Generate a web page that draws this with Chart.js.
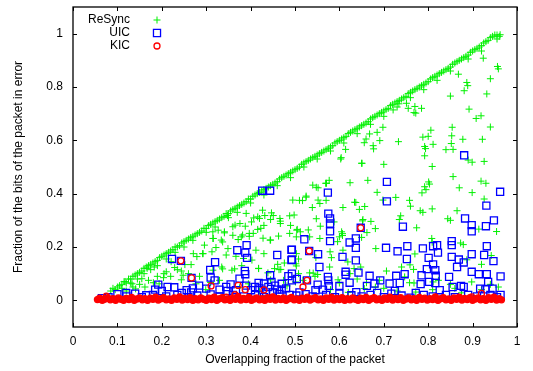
<!DOCTYPE html>
<html>
<head>
<meta charset="utf-8">
<script src="https://cdn.jsdelivr.net/npm/chart.js@4/dist/chart.umd.min.js"></script>
<style>
  html, body { margin: 0; padding: 0; background: #fff; }
</style>
</head>
<body>
<canvas id="chart" width="533" height="371"></canvas>
<script>
// tick values
const xTicks = [0, 0.1, 0.2, 0.3, 0.4, 0.5, 0.6, 0.7, 0.8, 0.9, 1];
const yTicks = [0, 0.2, 0.4, 0.6, 0.8, 1];
const seriesNames = ["ReSync", "UIC", "KIC"];

// ReSync: dense upper edge
const resyncEdge = [
  [0.085,0.035],[0.09,0.045],[0.095,0.04],[0.1,0.05],[0.105,0.055],[0.11,0.06],[0.11,0.045],[0.115,0.07],[0.12,0.065],[0.125,0.08],
  [0.13,0.08],[0.13,0.065],[0.135,0.09],[0.14,0.095],[0.145,0.1],[0.145,0.08],[0.15,0.105],[0.155,0.11],[0.16,0.12],[0.16,0.1],
  [0.165,0.125],[0.17,0.13],[0.175,0.135],[0.175,0.115],[0.18,0.14],[0.185,0.145],[0.19,0.15],[0.19,0.13],[0.195,0.16],[0.2,0.165],
  [0.205,0.17],[0.21,0.175],[0.21,0.155],[0.215,0.18],[0.22,0.185],[0.225,0.19],[0.23,0.2],[0.23,0.18],[0.235,0.2],[0.24,0.205],
  [0.245,0.215],[0.25,0.22],[0.25,0.2],[0.255,0.225],[0.26,0.23],[0.265,0.235],[0.27,0.24],[0.27,0.225],[0.275,0.245],[0.28,0.25],
  [0.285,0.255],[0.29,0.26],[0.295,0.27],[0.3,0.27],[0.3,0.255],[0.305,0.28],[0.31,0.285],[0.315,0.29],[0.32,0.295],[0.32,0.275],
  [0.325,0.3],[0.33,0.305],[0.335,0.31],[0.34,0.315],[0.345,0.325],[0.35,0.325],[0.35,0.31],[0.355,0.335],[0.36,0.34],[0.365,0.345],
  [0.37,0.35],[0.37,0.33],[0.375,0.355],[0.38,0.36],[0.385,0.365],[0.39,0.37],[0.395,0.38],[0.4,0.38],[0.4,0.365],[0.405,0.39],
  [0.41,0.395],[0.415,0.4],[0.42,0.405],[0.425,0.41],[0.43,0.415],[0.43,0.395],[0.435,0.42],[0.44,0.425],[0.445,0.43],[0.45,0.435],
  [0.455,0.44],[0.46,0.445],[0.46,0.43],[0.465,0.455],[0.47,0.46],[0.475,0.465],[0.48,0.47],[0.485,0.475],[0.49,0.48],[0.49,0.46],
  [0.495,0.485],[0.5,0.49],[0.505,0.495],[0.51,0.5],[0.515,0.51],[0.52,0.515],[0.52,0.5],[0.525,0.52],[0.53,0.525],[0.535,0.53],
  [0.54,0.535],[0.545,0.54],[0.55,0.545],[0.55,0.53],[0.555,0.55],[0.56,0.555],[0.565,0.56],[0.57,0.565],[0.575,0.57],[0.58,0.575],
  [0.58,0.56],[0.585,0.58],[0.59,0.59],[0.595,0.595],[0.6,0.6],[0.605,0.605],[0.61,0.61],[0.61,0.59],[0.615,0.615],[0.62,0.625],
  [0.625,0.63],[0.63,0.635],[0.635,0.64],[0.64,0.645],[0.64,0.625],[0.645,0.65],[0.65,0.655],[0.655,0.66],[0.66,0.665],[0.665,0.67],
  [0.67,0.68],[0.67,0.66],[0.675,0.685],[0.68,0.69],[0.685,0.695],[0.69,0.7],[0.695,0.705],[0.7,0.71],[0.7,0.69],[0.705,0.715],
  [0.71,0.72],[0.715,0.73],[0.72,0.735],[0.725,0.74],[0.73,0.745],[0.73,0.725],[0.735,0.75],[0.74,0.755],[0.745,0.76],[0.75,0.765],
  [0.755,0.775],[0.76,0.78],[0.76,0.76],[0.765,0.785],[0.77,0.79],[0.775,0.795],[0.78,0.8],[0.785,0.805],[0.79,0.81],[0.79,0.79],
  [0.795,0.815],[0.8,0.82],[0.805,0.83],[0.81,0.835],[0.815,0.84],[0.82,0.845],[0.82,0.825],[0.825,0.85],[0.83,0.855],[0.835,0.86],
  [0.84,0.865],[0.845,0.87],[0.85,0.875],[0.85,0.86],[0.855,0.885],[0.86,0.89],[0.865,0.895],[0.87,0.9],[0.875,0.905],[0.88,0.91],
  [0.885,0.915],[0.89,0.92],[0.89,0.905],[0.895,0.93],[0.9,0.935],[0.905,0.94],[0.91,0.945],[0.915,0.95],[0.92,0.955],[0.92,0.935],
  [0.925,0.965],[0.93,0.97],[0.935,0.975],[0.94,0.985],[0.945,0.99],[0.95,0.995],[0.955,0.995],[0.96,0.99],[0.955,0.98],[0.962,0.996]
];

// ReSync: scattered below the edge
const resyncScatter = [
  [0.924,0.908],[0.956,0.877],[0.958,0.868],[0.94,0.831],[0.932,0.774],[0.881,0.786],[0.887,0.817],[0.889,0.805],[0.868,0.848],[0.85,0.766],
  [0.892,0.717],[0.908,0.682],[0.919,0.692],[0.94,0.65],[0.922,0.604],[0.878,0.604],[0.854,0.649],[0.853,0.617],[0.852,0.588],[0.84,0.565],
  [0.856,0.566],[0.806,0.638],[0.8,0.615],[0.788,0.612],[0.811,0.585],[0.794,0.569],[0.792,0.577],[0.792,0.542],[0.809,0.502],[0.733,0.595],
  [0.691,0.599],[0.677,0.568],[0.676,0.58],[0.656,0.591],[0.66,0.605],[0.668,0.624],[0.698,0.649],[0.685,0.63],[0.89,0.526],[0.899,0.518],
  [0.926,0.521],[0.7,0.51],[0.65,0.514],[0.768,0.704],[0.785,0.72],[0.77,0.727],[0.721,0.714],[0.755,0.72],[0.772,0.702],[0.751,0.739],
  [0.734,0.737],[0.603,0.53],[0.604,0.535],[0.614,0.566],
  [0.856,0.464],[0.919,0.447],[0.93,0.439],[0.801,0.444],[0.803,0.436],[0.792,0.426],[0.786,0.403],[0.795,0.415],[0.87,0.422],[0.899,0.404],
  [0.926,0.38],[0.664,0.45],[0.624,0.441],[0.577,0.45],[0.569,0.439],[0.54,0.432],[0.552,0.422],[0.525,0.387],[0.495,0.376],[0.51,0.375],
  [0.552,0.376],[0.57,0.375],[0.685,0.405],[0.727,0.386],[0.698,0.376],[0.637,0.367],[0.645,0.341],[0.608,0.348],[0.758,0.375],[0.76,0.353],
  [0.782,0.336],[0.788,0.33],[0.809,0.343],[0.865,0.336],[0.844,0.306],[0.85,0.3],[0.539,0.348],[0.498,0.32],[0.548,0.306],[0.653,0.303],
  [0.671,0.296],[0.738,0.317],[0.735,0.303],[0.774,0.272],[0.681,0.269],[0.662,0.254],[0.605,0.257],[0.607,0.243],[0.557,0.278],[0.505,0.266],
  [0.53,0.264],[0.503,0.238],[0.533,0.238],[0.6,0.238],[0.808,0.232],[0.809,0.218],[0.873,0.215],[0.879,0.209],[0.914,0.267],[0.954,0.258],
  [0.682,0.194],[0.579,0.182],[0.77,0.174],[0.942,0.168],[0.503,0.129],[0.578,0.125],[0.619,0.144],[0.633,0.119],[0.648,0.125],[0.706,0.11],
  [0.74,0.125],[0.759,0.133],[0.767,0.116],[0.887,0.152],[0.92,0.135],[0.811,0.069],[0.823,0.075],[0.533,0.103],[0.518,0.075],[0.501,0.069],
  [0.551,0.097],[0.597,0.077],[0.661,0.066],[0.69,0.075],[0.747,0.088],[0.758,0.066],[0.768,0.065],[0.85,0.06],[0.898,0.069],[0.958,0.05],
  [0.772,0.031],[0.656,0.044],[0.681,0.05],[0.875,0.028],
  [0.548,0.424],[0.571,0.439],[0.651,0.514],[0.525,0.391],[0.517,0.374],[0.556,0.363],[0.634,0.368],[0.657,0.352],[0.447,0.328],[0.432,0.318],
  [0.407,0.309],[0.42,0.307],[0.466,0.307],[0.467,0.297],[0.488,0.317],[0.588,0.294],[0.652,0.298],[0.348,0.318],[0.402,0.294],[0.365,0.282],
  [0.388,0.278],[0.43,0.281],[0.49,0.281],[0.504,0.263],[0.512,0.257],[0.341,0.257],[0.315,0.257],[0.327,0.263],[0.397,0.251],[0.416,0.266],
  [0.445,0.226],[0.428,0.233],[0.463,0.241],[0.488,0.251],[0.372,0.228],[0.382,0.245],[0.315,0.232],[0.334,0.226],[0.607,0.25],[0.65,0.236],
  [0.596,0.22],[0.556,0.232],[0.349,0.194],[0.313,0.182],[0.293,0.175],[0.412,0.188],[0.43,0.175],[0.384,0.157],[0.403,0.151],[0.508,0.155],
  [0.547,0.16],[0.582,0.16],[0.608,0.188],[0.454,0.119],[0.464,0.115],[0.418,0.12],[0.335,0.125],[0.315,0.113],[0.364,0.118],[0.476,0.14],
  [0.624,0.1],[0.508,0.1],[0.541,0.102],[0.545,0.09],
  [0.467,0.288],[0.445,0.303],[0.427,0.338],[0.416,0.313],[0.451,0.318],[0.39,0.326],[0.36,0.276],[0.376,0.288],[0.341,0.253],[0.36,0.244],
  [0.379,0.238],[0.406,0.251],[0.423,0.27],[0.397,0.24],[0.444,0.226],[0.337,0.219],[0.316,0.232],[0.322,0.198],[0.296,0.207],[0.271,0.175],
  [0.292,0.175],[0.266,0.134],[0.252,0.134],[0.279,0.164],[0.345,0.17],[0.367,0.165],[0.38,0.13],[0.418,0.119],[0.439,0.103],[0.461,0.135],
  [0.468,0.116],[0.502,0.137],[0.503,0.175],[0.337,0.118],[0.358,0.113],[0.229,0.123],[0.21,0.107],[0.221,0.145],[0.244,0.11],[0.248,0.094],
  [0.183,0.125],[0.167,0.12],[0.155,0.081],[0.133,0.062],[0.117,0.07],[0.181,0.066],[0.204,0.085],[0.194,0.062],[0.141,0.043],[0.162,0.05],
  [0.31,0.067],[0.33,0.075],[0.277,0.062],[0.244,0.077],[0.395,0.062],[0.445,0.077],[0.474,0.075],[0.482,0.054],[0.42,0.035],[0.375,0.047],
  [0.299,0.04],[0.58,0.04],[0.62,0.03],[0.7,0.045],[0.73,0.035],[0.81,0.04],[0.86,0.045],[0.92,0.04],[0.94,0.06],[0.6,0.065],[0.64,0.08],
  [0.12,0.035],[0.135,0.05],[0.15,0.06],[0.17,0.075],[0.19,0.09],[0.205,0.1],[0.22,0.09],[0.235,0.115],[0.26,0.1],[0.285,0.09]
];

// UIC
const uicPoints = [
  [0.426,0.411],[0.444,0.411],[0.223,0.155],[0.243,0.148],[0.32,0.143],[0.309,0.114],[0.37,0.188],[0.391,0.207],[0.388,0.179],[0.392,0.159],
  [0.387,0.11],[0.388,0.098],[0.444,0.094],[0.46,0.17],[0.492,0.189],[0.492,0.151],[0.485,0.091],[0.504,0.08],[0.447,0.069],[0.43,0.063],
  [0.418,0.065],[0.375,0.081],[0.31,0.085],[0.319,0.075],[0.284,0.055],[0.228,0.049],[0.192,0.059],[0.213,0.05],[0.2,0.035],[0.256,0.038],
  [0.266,0.03],[0.3,0.044],[0.345,0.05],[0.348,0.035],[0.367,0.038],[0.401,0.038],[0.465,0.023],[0.14,0.025],[0.1,0.023],[0.165,0.019],
  [0.488,0.02],[0.503,0.018],[0.267,0.084],
  [0.881,0.544],[0.707,0.444],[0.962,0.407],[0.574,0.404],[0.707,0.371],[0.931,0.355],[0.883,0.307],[0.948,0.3],[0.575,0.325],[0.579,0.307],
  [0.579,0.288],[0.579,0.259],[0.743,0.276],[0.898,0.282],[0.898,0.259],[0.93,0.278],[0.521,0.229],[0.579,0.222],[0.637,0.232],[0.623,0.217],
  [0.637,0.197],[0.705,0.197],[0.753,0.203],[0.788,0.195],[0.811,0.203],[0.82,0.207],[0.822,0.179],[0.853,0.222],[0.853,0.207],[0.932,0.203],
  [0.898,0.173],[0.731,0.184],[0.493,0.19],[0.493,0.153],[0.552,0.173],[0.607,0.163],[0.637,0.15],[0.752,0.155],[0.801,0.159],[0.853,0.163],
  [0.869,0.153],[0.88,0.142],[0.926,0.17],[0.947,0.147],[0.555,0.125],[0.614,0.107],[0.614,0.096],[0.643,0.104],[0.668,0.092],[0.692,0.075],
  [0.728,0.092],[0.747,0.098],[0.785,0.094],[0.797,0.117],[0.811,0.135],[0.816,0.113],[0.817,0.092],[0.865,0.125],[0.847,0.088],[0.898,0.107],
  [0.914,0.098],[0.932,0.098],[0.935,0.069],[0.963,0.09],[0.574,0.088],[0.575,0.075],[0.576,0.054],[0.551,0.059],[0.6,0.054],[0.623,0.066],
  [0.662,0.054],[0.679,0.063],[0.713,0.063],[0.736,0.065],[0.783,0.061],[0.802,0.069],[0.816,0.065],[0.855,0.05],[0.874,0.054],[0.88,0.05],
  [0.917,0.044],[0.929,0.041],[0.945,0.044],[0.6,0.025],[0.627,0.019],[0.638,0.031],[0.685,0.028],[0.717,0.025],[0.725,0.035],[0.772,0.028],
  [0.826,0.038],[0.524,0.023],[0.546,0.038],[0.563,0.04],[0.963,0.02],[0.493,0.1],[0.493,0.075],[0.648,0.272],[0.532,0.185],[0.527,0.075],
  [0.065,0.008],[0.08,0.012],[0.12,0.015],[0.155,0.012],[0.18,0.02],[0.21,0.015],[0.235,0.02],[0.26,0.012],[0.28,0.018],[0.31,0.022],
  [0.33,0.015],[0.36,0.02],[0.385,0.015],[0.41,0.02],[0.43,0.012],[0.45,0.03],[0.47,0.04],[0.51,0.03],[0.54,0.015],[0.57,0.02],
  [0.59,0.012],[0.65,0.015],[0.67,0.02],[0.7,0.012],[0.74,0.018],[0.76,0.01],[0.79,0.02],[0.81,0.015],[0.84,0.02],[0.86,0.012],
  [0.89,0.02],[0.91,0.015],[0.94,0.02],[0.955,0.012],[0.41,0.05],[0.42,0.045],[0.435,0.03],[0.455,0.055],[0.47,0.062],[0.48,0.045],
  [0.46,0.04],[0.44,0.05],[0.39,0.055],[0.355,0.06],[0.33,0.04],[0.27,0.045],[0.245,0.028],[0.185,0.04],[0.12,0.028]
];

// KIC: the band near zero, then the outliers
const kicBand = [
  [0.055,0.003],[0.06,0.008],[0.066,0.0],[0.072,0.005],[0.078,0.01],[0.084,0.002],[0.09,0.006],[0.096,0.0],[0.102,0.009],[0.108,0.004],
  [0.114,0.0],[0.12,0.007],[0.126,0.003],[0.132,0.011],[0.138,0.0],[0.144,0.005],[0.15,0.009],[0.156,0.002],[0.162,0.006],[0.168,0.0],
  [0.174,0.008],[0.18,0.004],[0.186,0.012],[0.192,0.001],[0.198,0.006],[0.204,0.01],[0.21,0.002],[0.216,0.005],[0.222,0.0],[0.228,0.009],
  [0.234,0.004],[0.24,0.013],[0.246,0.001],[0.252,0.007],[0.258,0.003],[0.264,0.01],[0.27,0.0],[0.276,0.006],[0.282,0.002],[0.288,0.009],
  [0.294,0.004],[0.3,0.0],[0.306,0.008],[0.312,0.003],[0.318,0.012],[0.324,0.0],[0.33,0.006],[0.336,0.01],[0.342,0.002],[0.348,0.005],
  [0.354,0.0],[0.36,0.009],[0.366,0.004],[0.372,0.014],[0.378,0.001],[0.384,0.007],[0.39,0.003],[0.396,0.011],[0.402,0.0],[0.408,0.005],
  [0.414,0.009],[0.42,0.002],[0.426,0.006],[0.432,0.0],[0.438,0.01],[0.444,0.004],[0.45,0.013],[0.456,0.001],[0.462,0.007],[0.468,0.003],
  [0.474,0.009],[0.48,0.0],[0.486,0.006],[0.492,0.011],[0.498,0.002],[0.504,0.005],[0.51,0.0],[0.516,0.008],[0.522,0.004],[0.528,0.012],
  [0.534,0.001],[0.54,0.006],[0.546,0.01],[0.552,0.002],[0.558,0.005],[0.564,0.0],[0.57,0.009],[0.576,0.004],[0.582,0.012],[0.588,0.001],
  [0.594,0.007],[0.6,0.003],[0.606,0.01],[0.612,0.0],[0.618,0.006],[0.624,0.002],[0.63,0.009],[0.636,0.004],[0.642,0.0],[0.648,0.008],
  [0.654,0.003],[0.66,0.011],[0.666,0.0],[0.672,0.006],[0.678,0.01],[0.684,0.002],[0.69,0.005],[0.696,0.0],[0.702,0.009],[0.708,0.004],
  [0.714,0.012],[0.72,0.001],[0.726,0.007],[0.732,0.003],[0.738,0.01],[0.744,0.0],[0.75,0.005],[0.756,0.009],[0.762,0.002],[0.768,0.006],
  [0.774,0.0],[0.78,0.011],[0.786,0.004],[0.792,0.008],[0.798,0.001],[0.804,0.006],[0.81,0.003],[0.816,0.013],[0.822,0.0],[0.828,0.006],
  [0.834,0.01],[0.84,0.002],[0.846,0.005],[0.852,0.0],[0.858,0.009],[0.864,0.004],[0.87,0.012],[0.876,0.001],[0.882,0.007],[0.888,0.003],
  [0.894,0.01],[0.9,0.0],[0.906,0.005],[0.912,0.009],[0.918,0.002],[0.924,0.006],[0.93,0.0],[0.936,0.01],[0.942,0.004],[0.948,0.012],
  [0.954,0.001],[0.96,0.006],[0.965,0.002]
];
const kicOutliers = [
  [0.243,0.148],[0.267,0.084],[0.311,0.054],[0.372,0.056],[0.388,0.04],[0.43,0.039],[0.365,0.021],[0.648,0.272],[0.532,0.185],[0.527,0.075],
  [0.518,0.05],[0.92,0.026],[0.898,0.013],[0.075,0.016],[0.345,0.012]
];

const FONT = "'Liberation Sans', Arial, sans-serif";
const toXY = pts => pts.map(p => ({x: p[0], y: p[1]}));

const styles = [
  {pointStyle: "cross", pointRadius: 3.5, borderColor: "#00f000", backgroundColor: "#00f000", borderWidth: 1},
  {pointStyle: "rect", pointRadius: 5, borderColor: "#0000ff", backgroundColor: "rgba(0,0,0,0)", borderWidth: 1.3},
  {pointStyle: "circle", pointRadius: 3, borderColor: "#ff0000", backgroundColor: "rgba(0,0,0,0)", borderWidth: 1.3}
];

// frame with inward ticks on all sides + legend like gnuplot
const framePlugin = {
  id: "frame",
  afterDraw(chart) {
    const {ctx, chartArea: a, scales} = chart;
    ctx.save();
    ctx.strokeStyle = "#000";
    ctx.lineWidth = 1;
    ctx.beginPath();
    xTicks.forEach(v => {
      const px = Math.round(scales.x.getPixelForValue(v)) + 0.5;
      ctx.moveTo(px, a.bottom); ctx.lineTo(px, a.bottom - 4);
      ctx.moveTo(px, a.top); ctx.lineTo(px, a.top + 4);
    });
    yTicks.forEach(v => {
      const py = Math.round(scales.y.getPixelForValue(v)) + 0.5;
      ctx.moveTo(a.left, py); ctx.lineTo(a.left + 4, py);
      ctx.moveTo(a.right, py); ctx.lineTo(a.right - 4, py);
    });
    ctx.stroke();
    ctx.lineWidth = 1.3;
    ctx.strokeRect(a.left, a.top, a.right - a.left, a.bottom - a.top);

    // legend
    ctx.font = "12px " + FONT;
    ctx.textAlign = "right";
    ctx.textBaseline = "middle";
    seriesNames.forEach((name, i) => {
      const y = a.top + 13 + i * 13;
      ctx.fillStyle = "#000";
      ctx.fillText(name, a.left + 57, y);
      const s = styles[i];
      ctx.strokeStyle = s.borderColor;
      ctx.fillStyle = s.backgroundColor;
      ctx.lineWidth = s.borderWidth;
      Chart.helpers.drawPoint(ctx, {pointStyle: s.pointStyle, radius: s.pointRadius, rotation: 0, borderWidth: s.borderWidth}, a.left + 84, y);
    });
    ctx.restore();
  }
};

const noPad = s => { s.paddingTop = 0; s.paddingBottom = 0; s.paddingLeft = 0; s.paddingRight = 0; };

new Chart(document.getElementById("chart"), {
  type: "scatter",
  data: {
    datasets: [
      Object.assign({label: seriesNames[0], data: toXY(resyncEdge.concat(resyncScatter)), order: 3}, styles[0]),
      Object.assign({label: seriesNames[1], data: toXY(uicPoints), order: 2}, styles[1]),
      Object.assign({label: seriesNames[2], data: toXY(kicBand.concat(kicOutliers)), order: 1}, styles[2], {
        // the band near zero is so dense it reads as solid red
        backgroundColor: c => c.dataIndex < kicBand.length ? "#ff0000" : "rgba(0,0,0,0)"
      })
    ]
  },
  options: {
    responsive: false,
    animation: false,
    events: [],
    devicePixelRatio: 1,
    layout: {padding: {top: 7, right: 16, left: 0, bottom: 0}},
    plugins: {legend: {display: false}, tooltip: {enabled: false}},
    scales: {
      x: {
        type: "linear", min: 0, max: 1,
        afterBuildTicks: s => { s.ticks = xTicks.map(v => ({value: v})); },
        afterFit: s => { s.height = 44; noPad(s); },
        grid: {display: false, drawTicks: false},
        border: {display: false},
        ticks: {color: "#000", padding: 7, font: {family: FONT, size: 12}, maxRotation: 0, callback: v => String(v)},
        title: {display: true, text: "Overlapping fraction of the packet", color: "#000", font: {family: FONT, size: 12}, padding: {top: 0, bottom: 4}}
      },
      y: {
        type: "linear", min: -0.1, max: 1.1,
        afterBuildTicks: s => { s.ticks = yTicks.map(v => ({value: v})); },
        afterFit: s => { s.width = 73; noPad(s); },
        grid: {display: false, drawTicks: false},
        border: {display: false},
        ticks: {color: "#000", padding: 10, font: {family: FONT, size: 12}, callback: v => String(v)},
        title: {display: true, text: "Fraction of the bits of the packet in error", color: "#000", font: {family: FONT, size: 12}, padding: {top: 11, bottom: 0}}
      }
    }
  },
  plugins: [framePlugin]
});
</script>
</body>
</html>
